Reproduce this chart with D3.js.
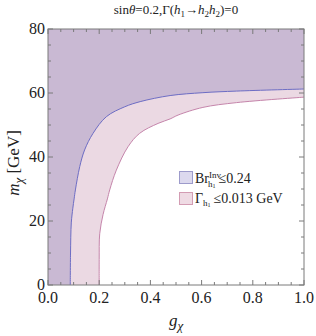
<!DOCTYPE html>
<html><head><meta charset="utf-8">
<script src="https://cdn.jsdelivr.net/npm/d3@7/dist/d3.min.js"></script>
<style>body{margin:0;background:#fff}svg{display:block}</style>
</head><body>
<script>
// Br_h1^Inv <= 0.24 boundary
const brG = [0.087,0.088,0.091,0.097,0.102,0.107,0.124,0.143,0.176,0.228,0.30,0.36,0.477,0.605,0.737,1.0];
const brM = [0,10,19.4,24,26.9,29.7,37,42.2,47.4,52.6,55.7,57.3,59.2,60.1,60.6,61.25];
// Gamma_h1 <= 0.013 GeV boundary
const gamG = [0.200,0.200,0.202,0.215,0.232,0.241,0.267,0.3125,0.358,0.43,0.477,0.508,0.605,0.737,1.0];
const gamM = [0,8,16,22,26.9,29.7,35.9,43.2,47.4,50.5,51.9,53.1,55.5,57,58.7];
const xTicks = [0,0.2,0.4,0.6,0.8,1.0];
const yTicks = [0,20,40,60,80];

const W=316,H=336;
const L=48,R=304,T=29,B=285;
const svg=d3.select("body").append("svg").attr("width",W).attr("height",H)
  .attr("font-family","'Liberation Serif','Times New Roman','DejaVu Serif',serif");
const x=d3.scaleLinear().domain([0,1]).range([L,R]);
const y=d3.scaleLinear().domain([0,80]).range([B,T]);

const line=d3.line().x(d=>x(d[0])).y(d=>y(d[1])).curve(d3.curveCatmullRom.alpha(0.5));
const brPts=brG.map((g,i)=>[g,brM[i]]);
const gamPts=gamG.map((g,i)=>[g,gamM[i]]);

function region(pts){
  return line(pts)+`L${x(1)},${y(80)}L${x(0)},${y(80)}L${x(0)},${y(0)}Z`;
}
svg.append("path").attr("d",region(gamPts)).attr("fill","#ebd9e3");
svg.append("path").attr("d",region(brPts)).attr("fill","#c9b9d3");
svg.append("path").attr("d",line(gamPts)).attr("fill","none").attr("stroke","#c585ab").attr("stroke-width",1);
svg.append("path").attr("d",line(brPts)).attr("fill","none").attr("stroke","#6d6dc4").attr("stroke-width",1);

// frame
const fc="#7a7a7a";
svg.append("rect").attr("x",L).attr("y",T).attr("width",R-L).attr("height",B-T)
  .attr("fill","none").attr("stroke",fc).attr("stroke-width",1);

// ticks (inside, all four sides)
const xMinor=d3.range(0,1.0001,0.05), yMinor=d3.range(0,80.001,5);
const tg=svg.append("g").attr("stroke",fc).attr("stroke-width",1);
xMinor.forEach(v=>{
  const major=Math.abs(v*5-Math.round(v*5))<1e-6;
  const len=major?5:3;
  tg.append("line").attr("x1",x(v)).attr("x2",x(v)).attr("y1",B).attr("y2",B-len);
  tg.append("line").attr("x1",x(v)).attr("x2",x(v)).attr("y1",T).attr("y2",T+len);
});
yMinor.forEach(v=>{
  const major=v%20===0;
  const len=major?5:3;
  tg.append("line").attr("y1",y(v)).attr("y2",y(v)).attr("x1",L).attr("x2",L+len);
  tg.append("line").attr("y1",y(v)).attr("y2",y(v)).attr("x1",R).attr("x2",R-len);
});

// tick labels
svg.append("g").selectAll("text").data(xTicks).join("text")
  .attr("x",d=>x(d)).attr("y",303).attr("text-anchor","middle")
  .attr("font-size",16).attr("fill","#222").text(d=>d.toFixed(1));
svg.append("g").selectAll("text").data(yTicks).join("text")
  .attr("x",45).attr("y",d=>y(d)+5).attr("text-anchor","end")
  .attr("font-size",16).attr("fill","#222").text(d=>d);

// title
const t=svg.append("text").attr("x",176).attr("y",14).attr("text-anchor","middle").attr("font-size",13).attr("fill","#222");
t.append("tspan").text("sin");
t.append("tspan").attr("font-style","italic").text("θ");
t.append("tspan").text("=0.2,Γ(");
t.append("tspan").attr("font-style","italic").text("h");
t.append("tspan").attr("font-size",9).attr("dy",3).text("1");
t.append("tspan").attr("dy",-3).text("→");
t.append("tspan").attr("font-style","italic").text("h");
t.append("tspan").attr("font-size",9).attr("dy",3).text("2");
t.append("tspan").attr("dy",-3).attr("font-style","italic").text("h");
t.append("tspan").attr("font-size",9).attr("dy",3).text("2");
t.append("tspan").attr("dy",-3).text(")=0");

// x label
const xl=svg.append("text").attr("x",176).attr("y",326).attr("text-anchor","middle").attr("font-size",17).attr("fill","#222");
xl.append("tspan").attr("font-style","italic").text("g");
xl.append("tspan").attr("font-style","italic").attr("font-size",13).attr("dy",4).text("χ");

// y label
const yl=svg.append("text").attr("transform","translate(19,163) rotate(-90)").attr("text-anchor","middle").attr("font-size",17).attr("fill","#222");
yl.append("tspan").attr("font-style","italic").text("m");
yl.append("tspan").attr("font-style","italic").attr("font-size",13).attr("dy",4).text("χ");
yl.append("tspan").attr("dy",-4).text(" [GeV]");

// legend
const lg=svg.append("g");
lg.append("rect").attr("x",179.5).attr("y",171.5).attr("width",13).attr("height",12).attr("fill","#dcd9ee").attr("stroke","#9d9bcb");
lg.append("rect").attr("x",179.5).attr("y",192.5).attr("width",13).attr("height",12).attr("fill","#efdbe4").attr("stroke","#d39cb3");
const l1=lg.append("text").attr("x",195).attr("y",183).attr("font-size",14).attr("fill","#222");
l1.append("tspan").text("Br");
l1.append("tspan").attr("font-size",9).attr("dy",-5).text("Inv");
l1.append("tspan").attr("font-size",9).attr("dx",-13).attr("dy",9).text("h");
l1.append("tspan").attr("font-size",6).attr("dy",1).text("1");
l1.append("tspan").attr("dx",3).attr("dy",-5).text("≤0.24");
const l2=lg.append("text").attr("x",195).attr("y",203).attr("font-size",14).attr("fill","#222");
l2.append("tspan").text("Γ");
l2.append("tspan").attr("font-size",9).attr("dy",3).text("h");
l2.append("tspan").attr("font-size",6).attr("dy",1).text("1");
l2.append("tspan").attr("dx",3).attr("dy",-4).text("≤0.013 GeV");
</script>
</body></html>
